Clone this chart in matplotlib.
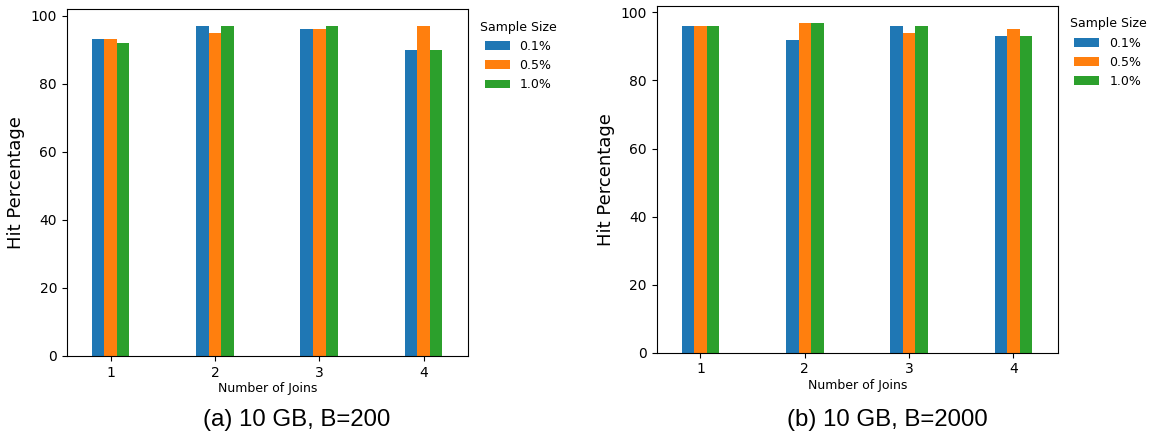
import numpy as np
import matplotlib
matplotlib.use("Agg")
import matplotlib.pyplot as plt

joins = [1, 2, 3, 4]
sample_sizes = ["0.1%", "0.5%", "1.0%"]
hits_b200 = [
    [93, 97, 96, 90],   # 0.1%
    [93, 95, 96, 97],   # 0.5%
    [92, 97, 97, 90],   # 1.0%
]
hits_b2000 = [
    [96, 92, 96, 93],
    [96, 97, 94, 95],
    [96, 97, 96, 93],
]
captions = ["(a) 10 GB, B=200", "(b) 10 GB, B=2000"]
caption_x = [0.258, 0.771]
colors = ["#1f77b4", "#ff7f0e", "#2ca02c"]

fig = plt.figure(figsize=(11.51, 4.36), dpi=100)
axes = [fig.add_axes([0.058, 0.1835, 0.349, 0.795]),
        fig.add_axes([0.5705, 0.191, 0.349, 0.795])]

width = 0.12
x = np.array(joins, dtype=float)
for ax, data, cap, cx in zip(axes, [hits_b200, hits_b2000], captions, caption_x):
    for i, (lbl, vals) in enumerate(zip(sample_sizes, data)):
        ax.bar(x + (i - 1) * width, vals, width, color=colors[i], label=lbl)
    ax.set_xticks(x)
    ax.set_xlim(0.58, 4.43)
    ax.set_ylim(0, 97 * 1.05)
    ax.tick_params(labelsize=10)
    ax.set_xlabel("Number of Joins", fontsize=9, labelpad=1.5)
    ax.set_ylabel("Hit Percentage", fontsize=13)
    ax.legend(title="Sample Size", loc="upper left", bbox_to_anchor=(1.0, 1.0),
              frameon=False, fontsize=9, title_fontsize=9, handlelength=2.0)
    fig.text(cx, 0.037, cap, ha="center", va="center",
             fontsize=17.3, family="Liberation Sans")

fig.savefig("out.png", dpi=100)
